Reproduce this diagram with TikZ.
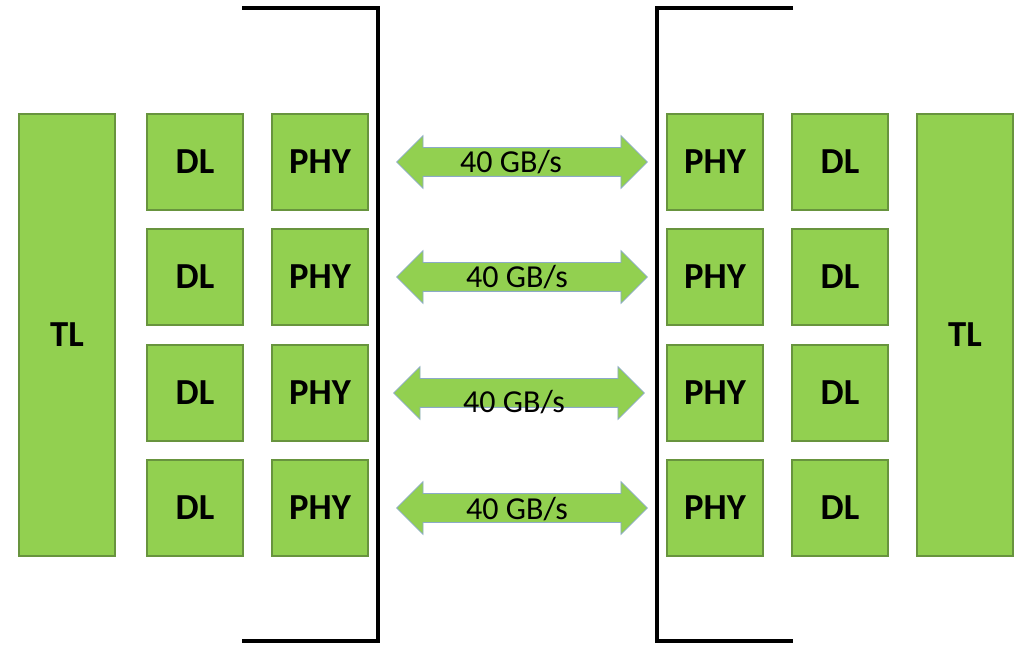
\documentclass[tikz,border=0pt]{standalone}
\usepackage{fontspec}
\setmainfont{Carlito}
\usetikzlibrary{shapes.arrows}
\definecolor{boxgreen}{RGB}{146, 208, 80}
\definecolor{boxedge}{RGB}{104, 148, 62}
\definecolor{arrowedge}{RGB}{140, 170, 200}

\begin{document}
\begin{tikzpicture}[x=0.75pt, y=-0.75pt,
  blk/.style={draw=boxedge, fill=boxgreen, line width=0.9pt, minimum width=72pt, minimum height=72pt, inner sep=0pt, font=\fontsize{27.5}{30}\selectfont\bfseries},
  tall/.style={blk, minimum height=331.5pt},
  link/.style={double arrow, draw=arrowedge, fill=boxgreen, line width=0.6pt, minimum height=188pt, minimum width=39pt, double arrow head extend=9pt, inner sep=0pt, text height=10.5pt, text depth=10.5pt},
  rate/.style={font=\fontsize{24}{26}\selectfont},
  bracket/.style={line width=2.4pt}]
  \useasboundingbox (0,0) rectangle (1022,645);
  % chip boundaries
  \draw[bracket] (242,8) -- (378,8) -- (378,641) -- (242,641);
  \draw[bracket] (793,8) -- (657,8) -- (657,641) -- (793,641);
  % transaction layers
  \node[tall] (tlL) at (67,335) {TL};
  \node[tall] (tlR) at (965,335) {TL};
  % data link and physical layers, one row per link
  \foreach \i/\y/\ax/\tx/\ty in {1/162/522/511/162, 2/277/522/517/277, 3/393/519/514/402, 4/508/522/517/509} {
    \node[blk] (dlL\i) at (195,\y) {DL};
    \node[blk] (phyL\i) at (320,\y) {PHY};
    \node[blk] (phyR\i) at (715,\y) {PHY};
    \node[blk] (dlR\i) at (840,\y) {DL};
    \node[link] (arr\i) at (\ax,\y) {};
    \node[rate] (bw\i) at (\tx,\ty) {40 GB/s};
  }
\end{tikzpicture}
\end{document}
